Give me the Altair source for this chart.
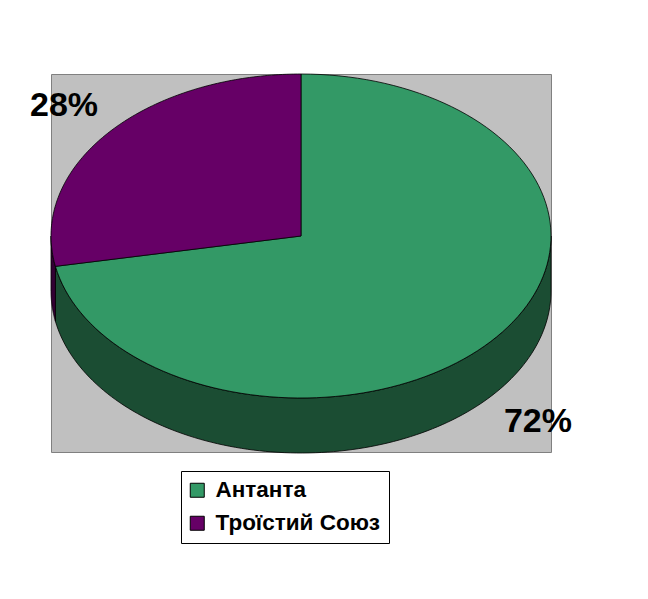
import numpy as np
import pandas as pd
import altair as alt

# ---- data ----
categories = ["Антанта", "Троїстий Союз"]
values = [72, 28]
labels = ["72%", "28%"]
top_colors = ["#339966", "#660066"]
side_colors = ["#1b4d33", "#330033"]

# ---- geometry of the tilted pie (plot coordinates, y downwards) ----
W, H = 500, 378
CX, CY, RX, RY, DEPTH = 250, 162, 250, 162, 55


def pt(phi_deg, dy=0.0):
    r = np.radians(phi_deg)
    return CX + RX * np.sin(r), CY - RY * np.cos(r) + dy


total = float(sum(values))
top_frames, side_frames, label_rows = [], [], []
start = 0.0
for cat, v, lab in zip(categories, values, labels):
    a0 = start / total * 360.0
    a1 = (start + v) / total * 360.0
    start += v
    # top face
    rows = [(CX, CY)]
    for a in np.linspace(a0, a1, 120):
        rows.append(pt(a))
    rows.append((CX, CY))
    top_frames.append(pd.DataFrame({"i": range(len(rows)),
                                    "x": [r[0] for r in rows],
                                    "y": [r[1] for r in rows]}))
    # visible side (front half: 90..270 degrees)
    lo, hi = max(a0, 90.0), min(a1, 270.0)
    if hi > lo:
        arc = np.linspace(lo, hi, 120)
        rows = [pt(a) for a in arc] + [pt(a, DEPTH) for a in arc[::-1]]
        rows.append(rows[0])
        side_frames.append(pd.DataFrame({"i": range(len(rows)),
                                         "x": [r[0] for r in rows],
                                         "y": [r[1] for r in rows]}))
    else:
        side_frames.append(None)
    # label position from mid angle
    mid = np.radians((a0 + a1) / 2)
    k = 1.23
    lx = CX + k * RX * np.sin(mid)
    ly = CY - k * RY * np.cos(mid) - 3
    if np.cos(mid) < 0:
        ly += DEPTH + 7
    label_rows.append({"label": lab, "x": lx, "y": ly})

xs = alt.Scale(domain=[0, W], nice=False, zero=False)
ys = alt.Scale(domain=[0, H], nice=False, zero=False, reverse=True)

layers = []
for df, col in zip(side_frames, side_colors):
    if df is None:
        continue
    layers.append(
        alt.Chart(df).mark_line(fill=col, stroke="black", strokeWidth=0.8)
        .encode(x=alt.X("x:Q", scale=xs, axis=None),
                y=alt.Y("y:Q", scale=ys, axis=None),
                order="i:Q")
    )
for df, col in zip(top_frames, top_colors):
    layers.append(
        alt.Chart(df).mark_line(fill=col, stroke="black", strokeWidth=0.8)
        .encode(x=alt.X("x:Q", scale=xs, axis=None),
                y=alt.Y("y:Q", scale=ys, axis=None),
                order="i:Q")
    )

text = alt.Chart(pd.DataFrame(label_rows)).mark_text(
    font="Liberation Sans", fontSize=34, fontWeight="bold", color="black",
    align="center", baseline="middle"
).encode(x=alt.X("x:Q", scale=xs, axis=None),
         y=alt.Y("y:Q", scale=ys, axis=None),
         text="label:N")
layers.append(text)

legend_df = pd.DataFrame({"cat": categories})
legend_layer = alt.Chart(legend_df).mark_square(opacity=0, filled=True).encode(
    x=alt.value(0), y=alt.value(0),
    color=alt.Color("cat:N",
                    scale=alt.Scale(domain=categories, range=top_colors),
                    legend=alt.Legend(
                        title=None, orient="none", legendX=130, legendY=397,
                        symbolType="square", symbolSize=196,
                        symbolStrokeColor="black", symbolStrokeWidth=1,
                        symbolOpacity=1, symbolOffset=-3,
                        labelFont="Liberation Sans", labelFontSize=22.5,
                        labelFontWeight="bold", labelColor="black",
                        labelOffset=7, labelLimit=0,
                        strokeColor="black", fillColor="white",
                        padding=8, rowPadding=10))
)
layers.append(legend_layer)

chart = alt.layer(*layers).properties(
    width=W, height=H,
    autosize=alt.AutoSizeParams(type="none"),
    padding={"left": 43, "top": 66, "right": 89, "bottom": 139},
    background="white",
).configure_view(fill="#c0c0c0", stroke="#808080", strokeWidth=1)

chart.save("out.html", embed_options={"renderer": "svg", "actions": False})
